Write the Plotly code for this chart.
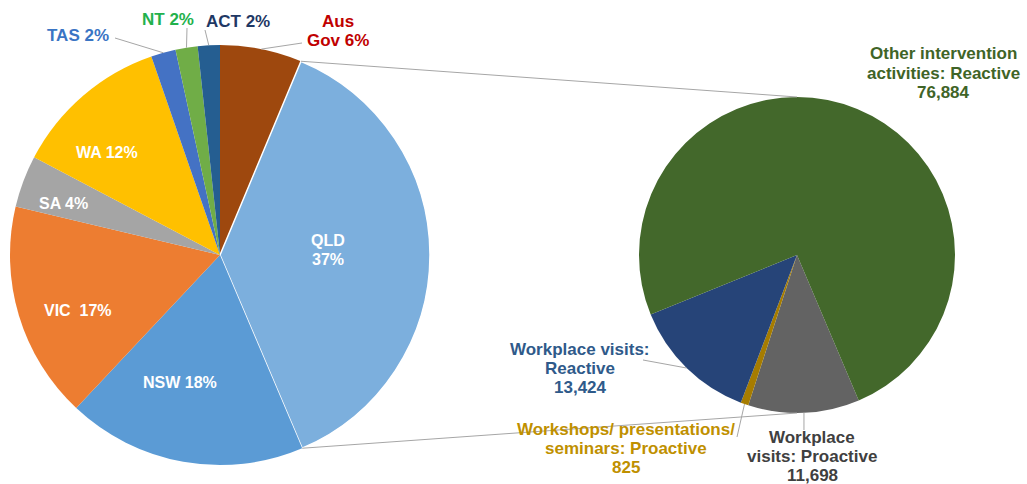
import math
import plotly.graph_objects as go

# left pie: share of interventions by jurisdiction (%)
juris = ["Aus Gov", "QLD", "NSW", "VIC", "SA", "WA", "TAS", "NT", "ACT"]
juris_pct = [6.3, 37.3, 18.4, 16.7, 4.0, 12.0, 1.9, 1.7, 1.7]
juris_colors = ["#9E480E", "#7CAFDD", "#5B9BD5", "#ED7D31", "#A5A5A5",
                "#FFC000", "#4472C4", "#70AD47", "#255E91"]

# right pie: QLD breakdown (counts)
qld_acts = ["Workplace visits: Proactive", "Workshops/ presentations/ seminars: Proactive",
            "Workplace visits: Reactive", "Other intervention activities: Reactive"]
qld_counts = [11698, 825, 13424, 76884]
qld_colors = ["#636363", "#A67C00", "#264478", "#43682B"]

W, H = 1027, 484
# pie geometry in pixels (centre x, centre y, radius)
L = (220, 255, 210)
R = (797, 255, 158)
R_ROT = 157
FS = 17     # label font size
LH = 19     # label line height


def px(x):
    return x / W


def py(y):
    return 1 - y / H


def dom(c):
    cx, cy, r = c
    return dict(x=[px(cx - r), px(cx + r)], y=[py(cy + r), py(cy - r)])


def edge(c, deg):
    cx, cy, r = c
    a = math.radians(deg)
    return cx + r * math.sin(a), cy - r * math.cos(a)


def angles(vals, rot=0):
    tot = sum(vals)
    out, cum = [], 0
    for v in vals:
        out.append((rot + cum / tot * 360, rot + (cum + v) / tot * 360))
        cum += v
    return out


fig = go.Figure()
fig.add_trace(go.Pie(
    labels=juris, values=juris_pct, sort=False, direction="clockwise", rotation=0,
    marker=dict(colors=juris_colors,
                line=dict(color="white", width=[1.5 if j == "QLD" else 0 for j in juris])),
    textinfo="none", domain=dom(L), showlegend=False, hoverinfo="label+percent"))
fig.add_trace(go.Pie(
    labels=qld_acts, values=qld_counts, sort=False, direction="clockwise", rotation=R_ROT,
    marker=dict(colors=qld_colors, line=dict(width=0)),
    textinfo="none", domain=dom(R), showlegend=False, hoverinfo="label+value"))

shapes = []
ann = []


def line(p0, p1, color="#A6A6A6", w=1):
    shapes.append(dict(type="line", xref="paper", yref="paper",
                       x0=px(p0[0]), y0=py(p0[1]), x1=px(p1[0]), y1=py(p1[1]),
                       line=dict(color=color, width=w)))


def label(text, x, y, color, xanchor="center", size=FS):
    # one annotation per line so the line spacing stays tight
    rows = text.split("<br>")
    y0 = y - (len(rows) - 1) * LH / 2
    for i, row in enumerate(rows):
        ann.append(dict(text="<b>" + row + "</b>", x=px(x), y=py(y0 + i * LH),
                        xref="paper", yref="paper", showarrow=False,
                        xanchor=xanchor, yanchor="middle", align="center",
                        font=dict(size=size, color=color, family="Arial, Liberation Sans")))


# connector lines between QLD slice and the breakdown pie
la = angles(juris_pct)
qi = juris.index("QLD")
line(edge(L, la[qi][0]), edge(R, 0))
line(edge(L, la[qi][1]), edge(R, 180))

pct = {j: round(v) for j, v in zip(juris, juris_pct)}
mid = {j: (a0 + a1) / 2 for j, (a0, a1) in zip(juris, la)}

# inside labels
label(f"QLD<br>{pct['QLD']}%", 328, 250, "white", size=16)
label(f"NSW {pct['NSW']}%", 180, 382, "white", size=16)
label(f"VIC  {pct['VIC']}%", 78, 310, "white", size=16)
label(f"SA {pct['SA']}%", 63, 203, "white", size=16)
label(f"WA {pct['WA']}%", 107, 152, "white", size=16)

# outside labels with leader lines
line(edge(L, mid["TAS"]), (115, 38))
label(f"TAS {pct['TAS']}%", 111, 36, "#3A75C4", xanchor="right")
line(edge(L, mid["NT"]), (187, 28))
label(f"NT {pct['NT']}%", 168, 20, "#22B14C")
line(edge(L, mid["ACT"]), (205, 30))
label(f"ACT {pct['ACT']}%", 238, 22, "#1F3864")
line(edge(L, mid["Aus Gov"]), (302, 43))
label(f"Aus<br>Gov {pct['Aus Gov']}%", 338, 31, "#C00000")

ra = angles(qld_counts, R_ROT)
rmid = [(a0 + a1) / 2 for a0, a1 in ra]
line(edge(R, rmid[2]), (643, 360))
line(edge(R, rmid[1]), (737, 437))
line(edge(R, rmid[0]), (edge(R, rmid[0])[0], 430))

label(f"Other intervention<br>activities: Reactive<br>{qld_counts[3]:,}", 943, 73, "#3F6427")
label(f"Workplace visits:<br>Reactive<br>{qld_counts[2]:,}", 580, 368, "#2F5A8A")
label(f"Workshops/ presentations/<br>seminars: Proactive<br>{qld_counts[1]:,}", 626, 448, "#BF9000")
label(f"Workplace<br>visits: Proactive<br>{qld_counts[0]:,}", 812, 456, "#404040")

fig.update_layout(width=W, height=H, margin=dict(l=0, r=0, t=0, b=0),
                  paper_bgcolor="white", plot_bgcolor="white",
                  shapes=shapes, annotations=ann)

fig.write_html("out.html", config={"displayModeBar": False},
               post_script="document.body.style.margin='0';")
